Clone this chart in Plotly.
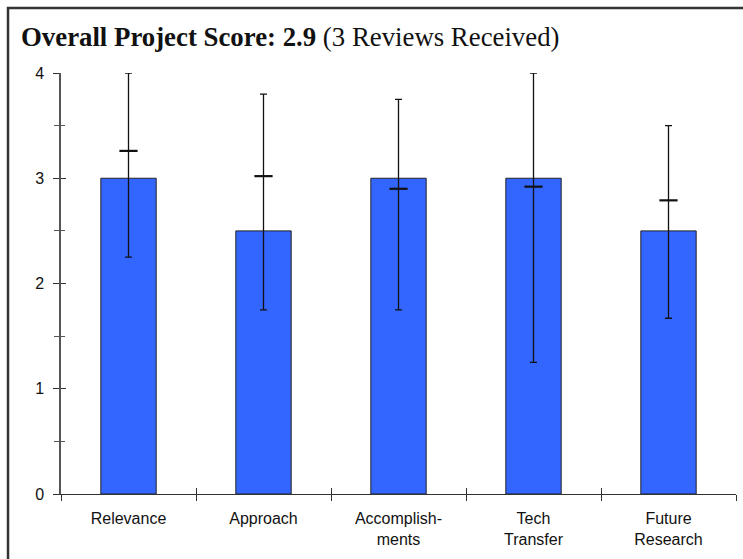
import plotly.graph_objects as go

# Review criteria and scores
categories = ["Relevance", "Approach", "Accomplish-<br>ments", "Tech<br>Transfer", "Future<br>Research"]
scores = [3.0, 2.5, 3.0, 3.0, 2.5]
score_high = [4.0, 3.8, 3.75, 4.0, 3.5]
score_low = [2.25, 1.75, 1.75, 1.25, 1.67]
mean_marks = [3.26, 3.02, 2.9, 2.92, 2.79]
y_ticks = [0, 1, 2, 3, 4]

err_plus = [h - s for h, s in zip(score_high, scores)]
err_minus = [s - l for s, l in zip(scores, score_low)]

fig = go.Figure()

fig.add_trace(go.Bar(
    x=categories, y=scores, width=0.41,
    marker=dict(color="#3366FF", line=dict(color="#222222", width=1)),
    hoverinfo="skip", showlegend=False,
))

# Range whiskers
fig.add_trace(go.Scatter(
    x=categories, y=scores, mode="markers",
    marker=dict(size=1, color="rgba(0,0,0,0)"),
    error_y=dict(type="data", symmetric=False, array=err_plus, arrayminus=err_minus,
                 color="#111111", thickness=1.3, width=3.5),
    cliponaxis=False, showlegend=False, hoverinfo="skip",
))

# Mean markers
fig.add_trace(go.Scatter(
    x=categories, y=mean_marks, mode="markers",
    marker=dict(symbol="line-ew", size=13, line=dict(color="#111111", width=2.2)),
    cliponaxis=False, showlegend=False, hoverinfo="skip",
))

axis_font = dict(family="Liberation Sans, Arial, sans-serif", size=16, color="#111111")

fig.update_layout(
    width=743, height=559,
    margin=dict(l=61, r=7, t=73, b=65),
    paper_bgcolor="white", plot_bgcolor="white",
    font=axis_font,
    xaxis=dict(
        type="category", range=[-0.5, 4.5], tickson="boundaries",
        ticks="outside", ticklen=6, tickwidth=1, tickcolor="#333333",
        showline=True, linecolor="#333333", linewidth=1.2,
        showgrid=False, zeroline=False, tickfont=axis_font, ticklabelstandoff=10,
    ),
    xaxis2=dict(
        type="category", range=[-0.5, 4.5], tickson="boundaries", overlaying="x",
        matches="x", ticks="inside", ticklen=6, tickwidth=1, tickcolor="#333333",
        showticklabels=False, showgrid=False, showline=False, zeroline=False,
    ),
    yaxis=dict(
        range=[0, 4], tickvals=y_ticks, ticks="outside", ticklen=6, tickwidth=1,
        tickcolor="#333333", showline=True, linecolor="#555555", linewidth=1.5,
        showgrid=False, zeroline=False, tickfont=axis_font, ticklabelstandoff=6,
        minor=dict(dtick=0.5, ticks="outside", ticklen=5, tickcolor="#555555", tickwidth=1),
    ),
    yaxis2=dict(
        range=[0, 4], tickvals=y_ticks, overlaying="y", ticks="inside", ticklen=5,
        tickwidth=1, tickcolor="#333333", showticklabels=False, showgrid=False,
        showline=False, zeroline=False,
        minor=dict(dtick=0.5, ticks="inside", ticklen=4, tickcolor="#555555", tickwidth=1),
    ),
)

# Invisible trace to activate the overlay axes that carry the inner tick halves
fig.add_trace(go.Scatter(x=categories, y=scores, xaxis="x2", yaxis="y2", mode="markers",
                         marker=dict(opacity=0), showlegend=False, hoverinfo="skip"))

# Frame: only the left and top edges fall on the page
fig.add_shape(type="path", xref="paper", yref="paper",
              path="M -0.0785 -0.5 L -0.0785 1.1545 L 1.4 1.1545",
              line=dict(color="#333333", width=2.5), layer="below")

fig.add_annotation(
    xref="paper", yref="paper", x=-0.0625, y=1.085, xanchor="left", yanchor="middle",
    text="<b>Overall Project Score: 2.9</b> (3 Reviews Received)", showarrow=False,
    font=dict(family="Liberation Serif, Times New Roman, serif", size=26.8, color="#111111"),
)

fig.write_html("out.html")
